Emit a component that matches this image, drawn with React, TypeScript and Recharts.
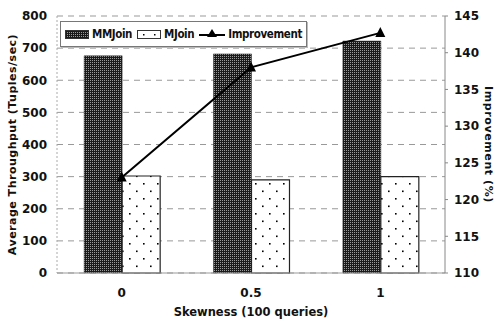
import React from "react";
import {
  ComposedChart,
  Bar,
  Line,
  XAxis,
  YAxis,
  CartesianGrid,
  Legend,
} from "recharts";

const skewness = ["0", "0.5", "1"];
const mmJoin = [676, 682, 722];
const mJoin = [302, 290, 300];
const improvement = [123, 138, 142.7];
const throughputTicks = [0, 100, 200, 300, 400, 500, 600, 700, 800];
const improvementTicks = [110, 115, 120, 125, 130, 135, 140, 145];

const data = skewness.map((s, i) => ({
  skew: s,
  MMJoin: mmJoin[i],
  MJoin: mJoin[i],
  Improvement: improvement[i],
}));

const FONT = "'DejaVu Sans', Verdana, sans-serif";
const COND = "'DejaVu Sans Condensed', 'DejaVu Sans', sans-serif";

function Triangle(props: any) {
  const { cx, cy } = props;
  if (cx == null || cy == null) return null;
  return <path d={`M${cx},${cy - 6} L${cx + 5},${cy + 4} L${cx - 5},${cy + 4} Z`} fill="#000" />;
}

function LegendBox() {
  const txt: React.CSSProperties = { fontFamily: COND, fontWeight: 700, fontSize: 11.5, color: "#111", letterSpacing: -0.4 };
  return (
    <div
      style={{
        display: "flex",
        alignItems: "center",
        gap: 3,
        border: "1px solid #777",
        background: "#fff",
        padding: "5px 4px",
        boxShadow: "1px 1px 0 #bbb",
      }}
    >
      <svg width={24} height={9}>
        <rect x={0.5} y={0.5} width={23} height={8} fill="url(#hatch)" stroke="#333" />
      </svg>
      <span style={txt}>MMJoin</span>
      <svg width={24} height={9} style={{ marginLeft: 2 }}>
        <rect x={0.5} y={0.5} width={23} height={8} fill="#fff" stroke="#333" />
        <rect x={6} y={4} width={1.5} height={1.5} fill="#000" />
        <rect x={17} y={4} width={1.5} height={1.5} fill="#000" />
      </svg>
      <span style={txt}>MJoin</span>
      <svg width={26} height={12} style={{ marginLeft: 2 }}>
        <line x1={0} y1={7} x2={26} y2={7} stroke="#000" strokeWidth={2} />
        <path d="M13,1 L18,9 L8,9 Z" fill="#000" />
      </svg>
      <span style={txt}>Improvement</span>
    </div>
  );
}

export default function App() {
  return (
    <div style={{ position: "absolute", left: 0, top: 0, width: 498, height: 321, background: "#fff" }}>
      <ComposedChart
        width={498}
        height={321}
        data={data}
        margin={{ top: 16, right: 0, bottom: 0, left: 0 }}
        barCategoryGap="21%"
        barGap={0}
      >
        <defs>
          <pattern id="hatch" width={2} height={2} patternUnits="userSpaceOnUse">
            <rect width={2} height={2} fill="#1a1a1a" />
            <rect x={0} y={0} width={1} height={1} fill="#9a9a9a" />
          </pattern>
          <pattern id="dots" width={14} height={15} patternUnits="userSpaceOnUse">
            <rect width={14} height={15} fill="#fff" />
            <rect x={3} y={3} width={1.6} height={1.6} fill="#000" />
            <rect x={10} y={10.5} width={1.6} height={1.6} fill="#000" />
          </pattern>
        </defs>
        <CartesianGrid yAxisId="left" vertical={false} stroke="#999" strokeDasharray="6 5" />
        <XAxis
          dataKey="skew"
          axisLine={{ stroke: "#999" }}
          tickLine={false}
          tick={{ fontFamily: FONT, fontWeight: 700, fontSize: 12, fill: "#111" }}
          tickMargin={9}
          height={48}
          label={{
            value: "Skewness (100 queries)",
            position: "insideBottom",
            offset: 5,
            style: { fontFamily: FONT, fontWeight: 700, fontSize: 11.5, fill: "#111" },
          }}
        />
        <YAxis
          yAxisId="left"
          domain={[0, 800]}
          ticks={throughputTicks}
          interval={0}
          width={57}
          axisLine={{ stroke: "#aaa", strokeDasharray: "2 2" }}
          tickLine={false}
          tickMargin={4}
          tick={{ fontFamily: FONT, fontWeight: 700, fontSize: 12, fill: "#111" }}
          label={{
            value: "Average Throughput (Tuples/sec)",
            angle: -90,
            position: "insideLeft",
            offset: 12,
            style: { textAnchor: "middle", fontFamily: FONT, fontWeight: 700, fontSize: 11, fill: "#111", letterSpacing: 0.5 },
          }}
        />
        <YAxis
          yAxisId="right"
          orientation="right"
          domain={[110, 145]}
          ticks={improvementTicks}
          interval={0}
          width={53}
          axisLine={{ stroke: "#888" }}
          tickLine={{ stroke: "#888" }}
          tickSize={3}
          tickMargin={6}
          tick={{ fontFamily: FONT, fontWeight: 700, fontSize: 12, fill: "#111", textAnchor: "start" }}
          label={{
            value: "Improvement (%)",
            angle: 90,
            position: "insideRight",
            offset: 9,
            style: { textAnchor: "middle", fontFamily: FONT, fontWeight: 700, fontSize: 11, fill: "#111", letterSpacing: 0.6 },
          }}
        />
        <Legend
          verticalAlign="middle"
          align="center"
          content={() => <LegendBox />}
          wrapperStyle={{ position: "absolute", top: 21, left: 60, width: "auto", height: "auto" }}
        />
        <Bar yAxisId="left" dataKey="MMJoin" fill="url(#hatch)" stroke="#333" strokeWidth={0.5} isAnimationActive={false} />
        <Bar yAxisId="left" dataKey="MJoin" fill="url(#dots)" stroke="#222" strokeWidth={1.2} isAnimationActive={false} />
        <Line
          yAxisId="right"
          dataKey="Improvement"
          stroke="#000"
          strokeWidth={2}
          dot={<Triangle />}
          activeDot={false}
          isAnimationActive={false}
        />
      </ComposedChart>
    </div>
  );
}
